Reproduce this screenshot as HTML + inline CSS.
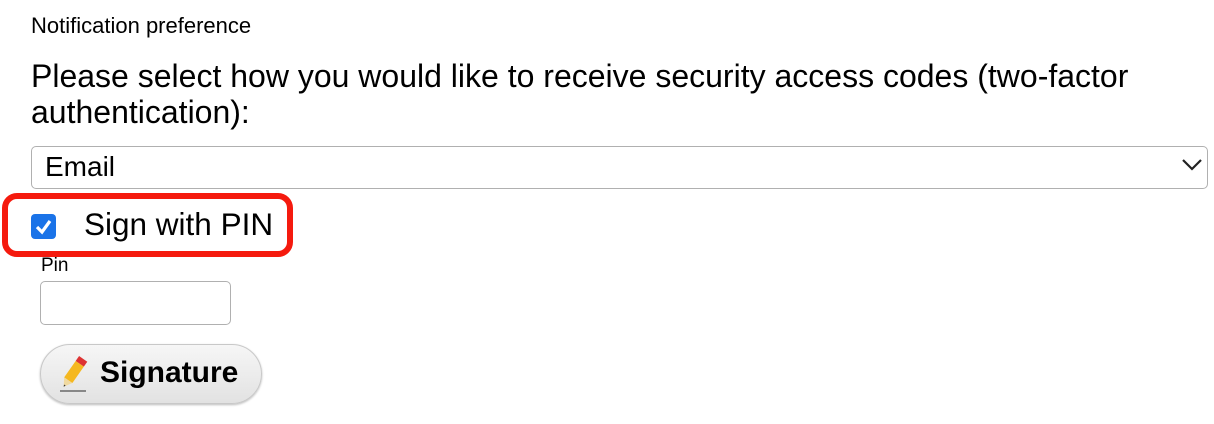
<!DOCTYPE html>
<html><head><style>
body{margin:0;width:1214px;height:424px;background:#fff;font-family:"Liberation Sans",Arial,sans-serif;color:#000;position:relative;overflow:hidden}
.a{position:absolute;white-space:nowrap}
</style></head><body>
<div class="a" style="left:31px;top:13px;font-size:22px">Notification preference</div>
<div class="a" style="left:31px;top:58px;font-size:32px;line-height:36px;white-space:normal;width:1180px">Please select how you would like to receive security access codes (two-factor authentication):</div>
<div class="a" style="left:31px;top:146px;width:1175px;height:41px;border:1.5px solid #b0b0b0;border-radius:5px"></div>
<div class="a" style="left:45px;top:151px;font-size:28px">Email</div>
<svg class="a" style="left:1180px;top:157px" width="24" height="16"><path d="M3 3 L12 12 L21 3" fill="none" stroke="#222" stroke-width="2.2"/></svg>
<div class="a" style="left:2px;top:193px;width:279px;height:52px;border:6px solid #f51a0e;border-radius:15px"></div>
<div class="a" style="left:31px;top:214px;width:25px;height:25px;background:#1a73e8;border-radius:4px"></div>
<svg class="a" style="left:31px;top:214px" width="25" height="25"><path d="M6 13 L11 18 L19 7" fill="none" stroke="#fff" stroke-width="3.2"/></svg>
<div class="a" style="left:84px;top:206px;font-size:31.5px">Sign with PIN</div>
<div class="a" style="left:41px;top:255px;font-size:19px">Pin</div>
<div class="a" style="left:40px;top:281px;width:189px;height:42px;border:1.5px solid #b0b0b0;border-radius:5px"></div>
<div class="a" style="left:40px;top:344px;width:220px;height:58px;border:1.5px solid #c8c8c8;border-radius:30px;background:linear-gradient(#f6f6f6,#e2e2e2);box-shadow:0 1px 2px #bbb"></div>
<svg class="a" style="left:56px;top:350px" width="36" height="44"><g transform="rotate(35 18 22)"><rect x="13" y="6" width="10" height="6" fill="#d33"/><rect x="13" y="12" width="10" height="20" fill="#f5b820"/><path d="M13 32 L23 32 L18 40 Z" fill="#f0d9a0"/><path d="M17 38 L19 38 L18 40Z" fill="#333"/></g><rect x="4" y="40" width="26" height="2" fill="#888"/></svg>
<div class="a" style="left:100px;top:356px;font-size:30px;font-weight:bold">Signature</div>
</body></html>
